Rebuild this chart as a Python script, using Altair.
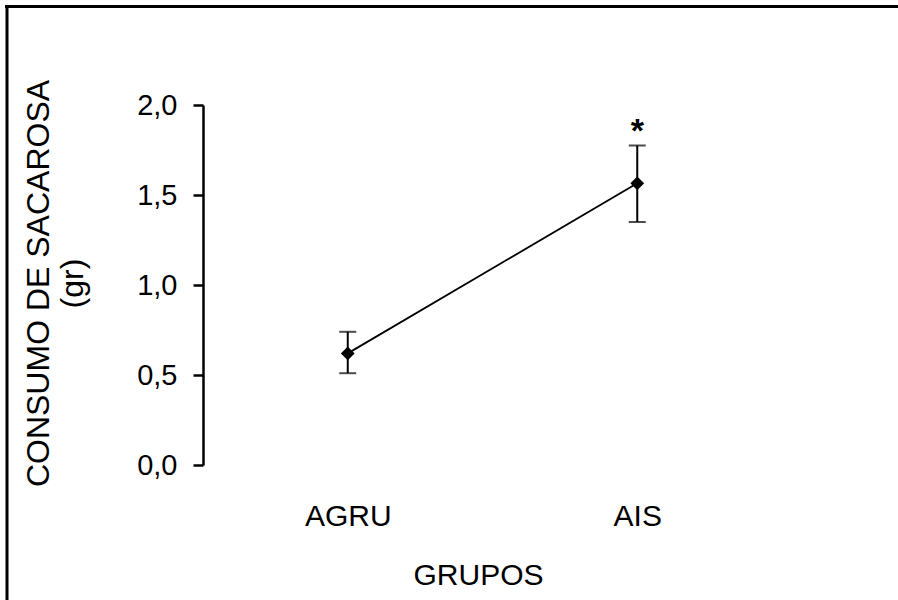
import altair as alt
import pandas as pd

grupos = ["AGRU", "AIS"]
medias = [0.62, 1.565]
err_bajo = [0.51, 1.35]
err_alto = [0.74, 1.775]
signif = ["", "*"]

df = pd.DataFrame({"grupo": grupos, "media": medias, "lo": err_bajo, "hi": err_alto, "sig": signif})

FONT = "Liberation Sans"
LEFT, TOP, W, H = 203, 105, 579, 360
TOTAL_H = 600

xenc = alt.X("grupo:N", sort=grupos,
             scale=alt.Scale(type="point", padding=0.5),
             axis=alt.Axis(title="GRUPOS", domain=False, ticks=False, labelAngle=0,
                           labelFont=FONT, labelFontSize=30, labelColor="black",
                           labelPadding=36, titleFont=FONT, titleFontSize=30,
                           titleFontWeight="normal", titleColor="black",
                           titlePadding=29, titleX=275))
yscale = alt.Scale(domain=[0, 2], nice=False, zero=True)
yaxis = alt.Axis(title=["CONSUMO DE SACAROSA", "(gr)"], values=[0, 0.5, 1.0, 1.5, 2.0],
                 labelExpr="replace(format(datum.value, '.1f'), '.', ',')",
                 grid=False, domainColor="black", domainWidth=2.5, tickColor="black",
                 tickWidth=2.5, tickSize=10, labelFont=FONT, labelFontSize=29,
                 labelColor="black", labelPadding=16, titleFont=FONT, titleFontSize=32,
                 titleFontWeight="normal", titleColor="black", titleAngle=-90,
                 titleAlign="center", titleBaseline="middle", titleX=-165, titleY=178,
                 titleLineHeight=34)

base = alt.Chart(df)

line = base.mark_line(color="black", strokeWidth=1.8).encode(
    x=xenc, y=alt.Y("media:Q", scale=yscale, axis=yaxis))
rules = base.mark_rule(color="black", strokeWidth=2).encode(
    x=alt.X("grupo:N", sort=grupos), y=alt.Y("lo:Q"), y2="hi:Q")
cap_lo = base.mark_tick(color="black", size=17, thickness=2).encode(
    x=alt.X("grupo:N", sort=grupos), y=alt.Y("lo:Q"))
cap_hi = base.mark_tick(color="black", size=17, thickness=2).encode(
    x=alt.X("grupo:N", sort=grupos), y=alt.Y("hi:Q"))
pts = base.mark_point(shape="diamond", filled=True, color="black", size=190, opacity=1).encode(
    x=alt.X("grupo:N", sort=grupos), y=alt.Y("media:Q"))
star = base.mark_text(font=FONT, fontSize=34, fontWeight="bold", color="black", dy=-14).encode(
    x=alt.X("grupo:N", sort=grupos), y=alt.Y("hi:Q"), text="sig:N")

one = pd.DataFrame({"a": [0]})
border_top = alt.Chart(one).mark_rect(color="black", strokeWidth=0).encode(
    x=alt.value(5 - LEFT), x2=alt.value(898 - LEFT),
    y=alt.value(5 - TOP), y2=alt.value(8 - TOP))
border_left = alt.Chart(one).mark_rect(color="black", strokeWidth=0).encode(
    x=alt.value(5.5 - LEFT), x2=alt.value(8.5 - LEFT),
    y=alt.value(5 - TOP), y2=alt.value(TOTAL_H - TOP))

chart = alt.layer(border_top, border_left, line, rules, cap_lo, cap_hi, pts, star).properties(
    width=W, height=H,
    autosize=alt.AutoSizeParams(type="none"),
    padding={"left": LEFT, "top": TOP, "right": 898 - LEFT - W, "bottom": TOTAL_H - TOP - H},
    background="white",
).configure_view(stroke=None)

chart.save("out.html", embed_options={"renderer": "svg", "actions": False})
